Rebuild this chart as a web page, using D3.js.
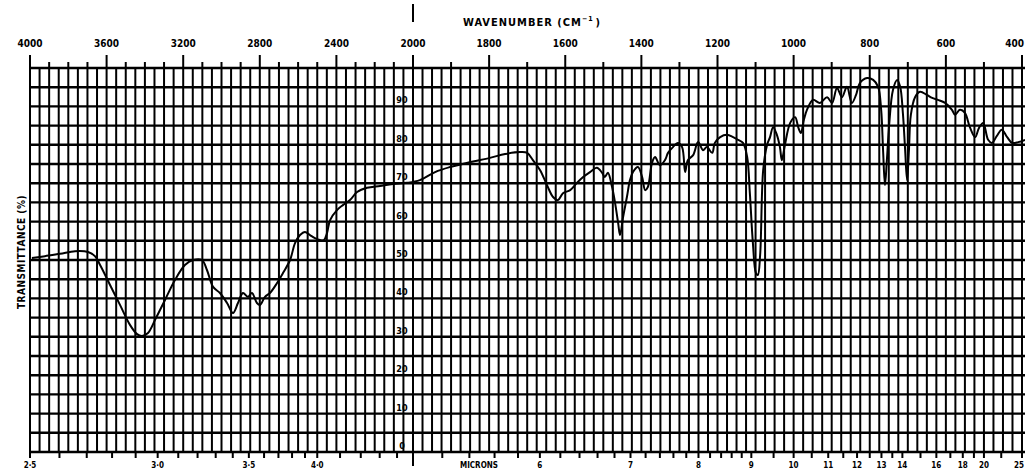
<!DOCTYPE html>
<html>
<head>
<meta charset="utf-8">
<script src="https://cdn.jsdelivr.net/npm/d3@7"></script>
<style>
body { margin: 0; background: #fff; }
svg { display: block; }
text { font-family: "DejaVu Sans Condensed", "DejaVu Sans", sans-serif; font-weight: bold; fill: #000; }
</style>
</head>
<body>
<script>
// spectrum: wavenumber (cm-1) and transmittance (%)
var wavenumber = [3990, 3922, 3843, 3765, 3697, 3661, 3634, 3582, 3530, 3478, 3441, 3415, 3384, 3347, 3295, 3243,
    3191, 3149, 3102, 3076, 3044, 3008, 2971, 2940, 2914, 2888, 2862, 2841, 2815, 2799, 2773, 2747, 2710, 2679,
    2642, 2616, 2590, 2564, 2538, 2512, 2486, 2465, 2449, 2433, 2397, 2366, 2329, 2292, 2240, 2172, 2104, 2031,
    1982, 1942, 1903, 1850, 1798, 1758, 1719, 1700, 1685, 1666, 1648, 1632, 1619, 1606, 1587, 1569, 1553, 1535,
    1517, 1503, 1496, 1488, 1477, 1469, 1461, 1456, 1448, 1438, 1430, 1422, 1409, 1398, 1390, 1383, 1372, 1364,
    1351, 1338, 1330, 1317, 1304, 1293, 1285, 1278, 1264, 1251, 1238, 1228, 1214, 1207, 1193, 1175, 1159, 1146,
    1133, 1122, 1115, 1107, 1099, 1094, 1088, 1080, 1070, 1062, 1054, 1044, 1036, 1031, 1023, 1009, 996, 988,
    981, 973, 965, 949, 931, 912, 899, 886, 873, 860, 847, 836, 826, 807, 791, 778, 770, 765, 760, 755, 749,
    739, 728, 720, 713, 707, 702, 697, 692, 681, 668, 650, 636, 621, 602, 584, 576, 563, 550, 537, 523, 513,
    502, 489, 479, 466, 453, 439, 426, 410, 392];
var transmittance = [50.5, 51.0, 51.6, 52.3, 52.1, 51.0, 48.7, 43.5, 38.3, 33.1, 30.7, 30.2, 31.0, 34.4, 39.6, 44.8,
    48.7, 50.0, 50.0, 47.4, 43.0, 41.4, 38.8, 36.2, 38.8, 41.4, 40.4, 41.4, 38.8, 38.3, 40.4, 41.4, 44.0, 46.6,
    50.0, 54.4, 56.5, 57.3, 56.5, 55.7, 55.2, 55.2, 57.0, 60.4, 63.0, 64.3, 65.6, 67.7, 68.8, 69.3, 69.8, 70.1,
    70.8, 72.9, 74.2, 75.5, 76.6, 77.6, 78.1, 77.9, 76.0, 73.4, 69.5, 66.4, 65.6, 67.4, 68.2, 70.1, 71.6, 72.9,
    74.0, 72.7, 71.6, 72.7, 69.0, 64.8, 59.6, 56.5, 61.2, 66.4, 70.8, 72.9, 74.2, 71.6, 68.2, 69.0, 75.3, 76.8,
    74.7, 76.0, 77.9, 79.4, 80.5, 79.4, 72.9, 76.0, 77.3, 80.7, 78.6, 79.4, 77.9, 80.5, 82.0, 82.6, 82.0, 81.3,
    80.5, 76.8, 67.4, 54.4, 46.6, 46.1, 51.3, 73.4, 79.9, 82.0, 84.6, 82.6, 79.4, 76.0, 79.9, 85.7, 87.2, 84.6,
    83.1, 86.5, 89.1, 91.7, 90.9, 92.4, 90.9, 94.8, 92.4, 95.1, 90.9, 93.0, 96.1, 97.4, 96.9, 95.1, 89.1, 78.6,
    69.5, 76.0, 85.2, 94.3, 96.9, 95.1, 88.3, 78.6, 70.8, 78.6, 87.8, 92.4, 93.8, 93.0, 92.2, 91.7, 90.9, 89.1,
    87.8, 89.1, 88.3, 84.6, 82.0, 84.4, 85.7, 81.3, 80.5, 82.3, 83.9, 82.0, 80.5, 80.7, 81.3];

var topLabels = [4000, 3600, 3200, 2800, 2400, 2000, 1800, 1600, 1400, 1200, 1000, 800, 600, 400];
var yLabels = [90, 80, 70, 60, 50, 40, 30, 20, 10, 0];
var micronLabels = [2.5, 3, 3.5, 4, 6, 7, 8, 9, 10, 11, 12, 13, 14, 16, 18, 20, 25];
var micronLabelText = ["2·5", "3·0", "3·5", "4·0", "6", "7", "8", "9", "10", "11", "12", "13", "14", "16", "18", "20", "25"];
var micronTicks = [2.5, 2.6, 2.7, 2.8, 2.9, 3.0, 3.1, 3.2, 3.3, 3.4, 3.5, 3.6, 3.7, 3.8, 3.9, 4.0,
    4.2, 4.4, 4.6, 4.8, 5.0, 5.2, 5.4, 5.6, 5.8, 6.0, 6.2, 6.4, 6.6, 6.8, 7.0, 7.2, 7.4, 7.6, 7.8, 8.0,
    8.2, 8.4, 8.6, 8.8, 9.0, 9.5, 10, 10.5, 11, 11.5, 12, 12.5, 13, 13.5, 14, 15, 16, 17, 18, 19, 20, 22, 25];

var width = 1025, height = 470;
var top0 = 68, bottom0 = 452;

// the chart paper changes scale at 2000 cm-1
var x = d3.scaleLinear().domain([4000, 2000, 400]).range([30, 413, 1022]);
var y = d3.scaleLinear().domain([0, 100]).range([bottom0, top0]);

var svg = d3.select("body").append("svg")
    .attr("width", width)
    .attr("height", height)

// vertical grid: 50 cm-1 steps above 2000, 25 cm-1 below
var vLines = d3.range(4000, 2000, -50).concat(d3.range(2000, 374, -25));
svg.append("g").selectAll("line")
    .data(vLines)
    .enter().append("line")
    .attr("x1", d => x(d)).attr("x2", d => x(d))
    .attr("y1", top0).attr("y2", bottom0)
    .attr("stroke", "#000")
    .attr("stroke-width", 2)

svg.append("g").selectAll("line")
    .data(d3.range(0, 101, 5))
    .enter().append("line")
    .attr("x1", x(4000)).attr("x2", width)
    .attr("y1", d => y(d)).attr("y2", d => y(d))
    .attr("stroke", "#000")
    .attr("stroke-width", 2.4)

// top wavenumber ticks (every 100)
var topTicks = d3.range(4000, 399, -100);
svg.append("g").selectAll("line")
    .data(topTicks)
    .enter().append("line")
    .attr("x1", d => x(d)).attr("x2", d => x(d))
    .attr("y1", top0)
    .attr("y2", d => topLabels.indexOf(d) >= 0 ? top0 - 13 : top0 - 6)
    .attr("stroke", "#000")
    .attr("stroke-width", 2)

// last label on each edge is pulled in so it is not cut by the window
svg.append("g").selectAll("text")
    .data(topLabels)
    .enter().append("text")
    .attr("x", d => d == 400 ? width - 1 : x(d))
    .attr("y", 47)
    .attr("text-anchor", d => d == 400 ? "end" : "middle")
    .attr("font-size", 10)
    .text(d => d)

var title = svg.append("text")
    .attr("x", 463)
    .attr("y", 26)
    .attr("font-size", 11)
    .attr("letter-spacing", 1)
title.append("tspan").text("WAVENUMBER (CM")
title.append("tspan")
    .attr("font-size", 7)
    .attr("dy", -5)
    .text("−1")
title.append("tspan")
    .attr("dy", 5)
    .attr("dx", 2)
    .text(")")

svg.append("line")
    .attr("x1", x(2000)).attr("x2", x(2000))
    .attr("y1", 4).attr("y2", 22)
    .attr("stroke", "#000")
    .attr("stroke-width", 2)

// transmittance labels sit inside the grid, left of the 2000 line
svg.append("g").selectAll("text")
    .data(yLabels)
    .enter().append("text")
    .attr("x", x(2000) - 11)
    .attr("y", d => y(d) - 3)
    .attr("text-anchor", "middle")
    .attr("font-size", 9)
    .text(d => d)

svg.append("text")
    .attr("transform", "translate(25,252) rotate(-90)")
    .attr("text-anchor", "middle")
    .attr("font-size", 10)
    .attr("letter-spacing", 0.5)
    .text("TRANSMITTANCE (%)")

// bottom wavelength ticks (microns)
svg.append("g").selectAll("line")
    .data(micronTicks)
    .enter().append("line")
    .attr("x1", d => x(10000 / d)).attr("x2", d => x(10000 / d))
    .attr("y1", bottom0)
    .attr("y2", d => d == 5 ? bottom0 + 14 : bottom0 + 6)
    .attr("stroke", "#000")
    .attr("stroke-width", 2)

svg.append("g").selectAll("text")
    .data(micronLabels)
    .enter().append("text")
    .attr("x", d => d == 25 ? width - 1 : x(10000 / d))
    .attr("y", 468)
    .attr("text-anchor", d => d == 25 ? "end" : "middle")
    .attr("font-size", 8)
    .text((d, i) => micronLabelText[i])

svg.append("text")
    .attr("x", 479)
    .attr("y", 468)
    .attr("text-anchor", "middle")
    .attr("font-size", 8)
    .text("MICRONS")

// the spectrum trace
var line = d3.line()
    .x(d => x(d[0]))
    .y(d => y(d[1]))
    .curve(d3.curveCatmullRom.alpha(0.5))

svg.append("path")
    .datum(d3.zip(wavenumber, transmittance))
    .attr("d", line)
    .attr("fill", "none")
    .attr("stroke", "#000")
    .attr("stroke-width", 2)
    .attr("stroke-linejoin", "round")
</script>
</body>
</html>
